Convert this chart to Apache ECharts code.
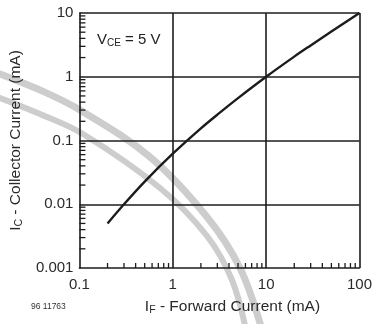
<!DOCTYPE html>
<html>
<head>
<meta charset="utf-8">
<style>
  html, body { margin: 0; padding: 0; background: #ffffff; }
  #chart { width: 375px; height: 324px; }
</style>
<script src="https://cdn.jsdelivr.net/npm/echarts@6/dist/echarts.min.js"></script>
</head>
<body>
<div id="chart"></div>
<script>
// Forward current I_F (mA) and the resulting collector current I_C (mA) at V_CE = 5 V
const forwardCurrent = [0.2, 0.3, 0.5, 1, 2, 3, 5, 10, 20, 30, 50, 100];
const collectorCurrent = [0.005, 0.01, 0.0227, 0.062, 0.155, 0.254, 0.462, 1.0, 2.07, 3.1, 5.12, 10];

// Decade labels on both axes
const xTickLabels = ['0.1', '1', '10', '100'];
const yTickLabels = ['0.001', '0.01', '0.1', '1', '10'];

// Minor tick positions (2..9 within each decade)
function minorTicks(lo, hi) {
  const out = [];
  for (let d = lo; d < hi * 0.999; d *= 10) {
    for (let k = 2; k <= 9; k++) out.push(+(d * k).toPrecision(3));
  }
  return out;
}
const xMinor = minorTicks(0.1, 100);
const yMinor = minorTicks(0.001, 10);

const xMin = +xTickLabels[0], xMax = +xTickLabels[xTickLabels.length - 1];
const yMin = +yTickLabels[0], yMax = +yTickLabels[yTickLabels.length - 1];

function pickLabel(list) {
  return function (v) {
    for (const s of list) {
      if (Math.abs(Math.log10(+s) - Math.log10(v)) < 1e-6) return s;
    }
    return '';
  };
}

const ink = '#1c1c1c';
const txt = '#2a2a2a';
const font = "'Liberation Sans', Arial, sans-serif";

function titleRich(size) {
  return {
    i: { fontFamily: font, fontSize: size, color: txt },
    s: { fontFamily: font, fontSize: size * 0.68, color: txt, verticalAlign: 'bottom', padding: [7, 0, 0, 0] },
    t: { fontFamily: font, fontSize: size, color: txt }
  };
}

// Decade grid lines (inner ones plus the top and right frame edges)
const gridLines = xTickLabels.slice(1).map(v => ({ xAxis: +v }))
  .concat(yTickLabels.slice(1).map(v => ({ yAxis: +v })));

// Short inward tick marks placed through the axis scales
function tickSeries(points, dx, dy) {
  return {
    type: 'custom',
    coordinateSystem: 'cartesian2d',
    silent: true,
    clip: false,
    z: 6,
    encode: { x: 0, y: 1 },
    data: points,
    renderItem: function (params, api) {
      const p = api.coord([api.value(0), api.value(1)]);
      return {
        type: 'line',
        shape: { x1: p[0], y1: p[1], x2: p[0] + dx, y2: p[1] + dy },
        style: { stroke: ink, lineWidth: 1.3, fill: null }
      };
    }
  };
}

const chart = echarts.init(document.getElementById('chart'), null, { renderer: 'canvas' });

chart.setOption({
  backgroundColor: '#ffffff',
  animation: false,
  tooltip: { show: false },
  grid: { left: 77, right: 13, top: 13, bottom: 56, containLabel: false },
  xAxis: {
    type: 'log', logBase: 10, min: xMin, max: xMax,
    name: '{i|I}{s|F}{t| - Forward Current (mA)}',
    nameLocation: 'middle', nameGap: 30,
    nameTextStyle: { padding: [0, 0, 0, 26], rich: titleRich(15.5) },
    axisLine: { show: true, lineStyle: { color: ink, width: 1.6 } },
    axisTick: { show: false },
    axisLabel: { show: true, margin: 9, fontFamily: font, fontSize: 15, color: txt, formatter: pickLabel(xTickLabels) },
    splitLine: { show: false }
  },
  yAxis: {
    type: 'log', logBase: 10, min: yMin, max: yMax,
    name: '{i|I}{s|C}{t| - Collector Current (mA)}',
    nameLocation: 'middle', nameGap: 45, nameRotate: 90,
    nameTextStyle: { rich: titleRich(15.5) },
    axisLine: { show: true, lineStyle: { color: ink, width: 1.6 } },
    axisTick: { show: false },
    axisLabel: { show: true, margin: 6, fontFamily: font, fontSize: 15, color: txt, formatter: pickLabel(yTickLabels) },
    splitLine: { show: false }
  },
  series: [{
    type: 'line',
    data: forwardCurrent.map((x, i) => [x, collectorCurrent[i]]),
    smooth: 0.3,
    showSymbol: false,
    lineStyle: { color: ink, width: 2.4 },
    z: 5,
    markLine: {
      silent: true,
      symbol: ['none', 'none'],
      label: { show: false },
      lineStyle: { color: ink, width: 1.6, type: 'solid' },
      emphasis: { disabled: true },
      data: gridLines
    }
  },
  tickSeries(xMinor.map(v => [v, yMin]), 0, -5),
  tickSeries(yMinor.map(v => [xMin, v]), 6, 0)
  ],
  graphic: [
    // faint watermark bands behind the plot
    { type: 'polyline', z: -10, silent: true,
      shape: { points: [[-5, 72], [40, 90], [80, 110], [150, 157], [207, 217], [240, 268], [262, 330]], smooth: 0.35 },
      style: { stroke: '#cdcdcd', lineWidth: 7, fill: null } },
    { type: 'polyline', z: -10, silent: true,
      shape: { points: [[-5, 96], [40, 114], [83, 134], [160, 188], [207, 236], [232, 280], [246, 330]], smooth: 0.35 },
      style: { stroke: '#cdcdcd', lineWidth: 6, fill: null } },
    // operating condition annotation
    { type: 'text', left: 97, top: 32, z: 10,
      style: {
        text: '{v|V}{s|CE}{v| = 5 V}',
        rich: {
          v: { fontFamily: font, fontSize: 15, fill: '#222' },
          s: { fontFamily: font, fontSize: 10, fill: '#222', verticalAlign: 'bottom', padding: [7, 0, 0, 0] }
        }
      } },
    // drawing number
    { type: 'text', left: 31, top: 302, z: 10,
      style: { text: '96 11763', fontFamily: font, fontSize: 8.5, fill: '#333' } }
  ]
});
</script>
</body>
</html>
